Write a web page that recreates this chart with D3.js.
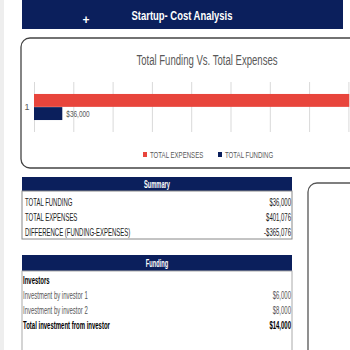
<!DOCTYPE html>
<html lang="en">
<head>
  <meta charset="UTF-8">
  <title>Startup- Cost Analysis</title>
  <script src="https://d3js.org/d3.v7.min.js"></script>
  <style>
    body {
      margin: 0;
      padding: 0;
      background: #fff;
      font-family: 'Liberation Sans', Arial, sans-serif;
      overflow: hidden;
    }
    svg { display: block; }
    .grid line { stroke: #d9d9d9; stroke-width: 1; }
    .grid path { display: none; }
  </style>
</head>
<body>
  <div id="chart"></div>

  <script>
    // chart data
    const categories = ["1"];
    const seriesNames = ["TOTAL EXPENSES", "TOTAL FUNDING"];
    const totalExpenses = [401076];
    const totalFunding = [36000];
    const seriesColors = ["#e8453c", "#0b1f5c"];

    // summary table
    const summaryLabels = ["TOTAL FUNDING", "TOTAL EXPENSES", "DIFFERENCE (FUNDING-EXPENSES)"];
    const summaryValues = ["$36,000", "$401,076", "-$365,076"];

    // funding table
    const fundingLabels = ["Investors", "Investment by investor 1", "Investment by investor 2", "Total investment from investor"];
    const fundingValues = ["", "$6,000", "$8,000", "$14,000"];
    const fundingBold = [true, false, false, true];

    const navy = "#0b1f5c";
    const W = 350, H = 350;

    // the original uses a narrow font; scale text horizontally to match
    function squeeze(sel, k) {
      sel.each(function () {
        const t = d3.select(this);
        const tx = +t.attr("x") || 0, ty = +t.attr("y") || 0;
        t.attr("x", 0).attr("y", 0)
          .attr("transform", `translate(${tx},${ty}) scale(${k},1)`);
      });
    }

    const svg = d3.select("#chart").append("svg")
      .attr("width", W)
      .attr("height", H);

    // light strip at left
    svg.append("rect").attr("x", 0).attr("y", 0).attr("width", 4).attr("height", H).attr("fill", "#eeeeee");

    // header bar
    svg.append("rect").attr("x", 22).attr("y", 0).attr("width", 321).attr("height", 29).attr("fill", navy);
    svg.append("text")
      .attr("x", 182).attr("y", 20)
      .attr("text-anchor", "middle")
      .attr("fill", "#fff")
      .style("font-size", "13.5px")
      .style("font-weight", "bold")
      .text("Startup- Cost Analysis")
      .call(squeeze, 0.7);
    svg.append("text")
      .attr("x", 86).attr("y", 24)
      .attr("text-anchor", "middle")
      .attr("fill", "#fff")
      .style("font-size", "12px")
      .style("font-weight", "bold")
      .text("+");

    // chart box
    svg.append("rect")
      .attr("x", 21).attr("y", 38).attr("width", 360).attr("height", 130)
      .attr("rx", 9)
      .attr("fill", "#fff")
      .attr("stroke", "#444").attr("stroke-width", 1.3);

    svg.append("text")
      .attr("x", 207).attr("y", 65)
      .attr("text-anchor", "middle")
      .attr("fill", "#595959")
      .style("font-size", "14.5px")
      .text("Total Funding Vs. Total Expenses")
      .call(squeeze, 0.66);

    // bar plot
    const plot = { left: 34, top: 82, height: 50 };
    const x = d3.scaleLinear().domain([0, 450000]).range([plot.left, plot.left + 9 * 39.3]);
    const y = d3.scaleBand().domain(categories).range([plot.top, plot.top + plot.height]).paddingInner(0).paddingOuter(0.44);
    const ySeries = d3.scaleBand().domain(seriesNames).range([0, y.bandwidth()]).padding(0.02);

    svg.append("g")
      .attr("class", "grid")
      .attr("transform", `translate(0,${plot.top})`)
      .call(d3.axisBottom(x).tickValues(d3.range(0, 450001, 50000)).tickSize(plot.height).tickFormat(""));

    const barData = [];
    categories.forEach((c, i) => {
      barData.push({ cat: c, series: seriesNames[0], value: totalExpenses[i], color: seriesColors[0] });
      barData.push({ cat: c, series: seriesNames[1], value: totalFunding[i], color: seriesColors[1] });
    });

    svg.selectAll(".bar")
      .data(barData)
      .enter()
      .append("rect")
      .attr("class", "bar")
      .attr("x", x(0))
      .attr("y", d => y(d.cat) + ySeries(d.series))
      .attr("width", d => x(d.value) - x(0))
      .attr("height", ySeries.bandwidth())
      .attr("fill", d => d.color);

    // data label on funding bar
    svg.selectAll(".blabel")
      .data(barData.filter(d => d.series === "TOTAL FUNDING"))
      .enter()
      .append("text")
      .attr("x", d => x(d.value) + 4)
      .attr("y", d => y(d.cat) + ySeries(d.series) + ySeries.bandwidth() / 2 + 3)
      .attr("fill", "#595959")
      .style("font-size", "9px")
      .text(d => d3.format("$,")(d.value))
      .call(squeeze, 0.72);

    // category label
    svg.selectAll(".clabel")
      .data(categories)
      .enter()
      .append("text")
      .attr("x", 27)
      .attr("y", d => y(d) + y.bandwidth() / 2 + 3)
      .attr("text-anchor", "middle")
      .attr("fill", "#595959")
      .style("font-size", "9px")
      .text(d => d);

    // legend
    const legendX = [143, 218];
    const legend = svg.selectAll(".legend")
      .data(seriesNames)
      .enter()
      .append("g")
      .attr("transform", (d, i) => `translate(${legendX[i]},158)`);
    legend.append("rect")
      .attr("x", 0).attr("y", -6).attr("width", 4).attr("height", 5)
      .attr("fill", (d, i) => seriesColors[i]);
    legend.append("text")
      .attr("x", 7).attr("y", 0)
      .attr("fill", "#595959")
      .style("font-size", "9.5px")
      .text(d => d)
      .call(squeeze, 0.64);

    // right panel box
    svg.append("rect")
      .attr("x", 308).attr("y", 183).attr("width", 80).attr("height", 200)
      .attr("rx", 9)
      .attr("fill", "#fff")
      .attr("stroke", "#555").attr("stroke-width", 1.3);

    // summary table
    const tLeft = 22, tRight = 292;
    const tableK = 0.57;
    const tableFont = "10.5px";
    svg.append("rect").attr("x", tLeft).attr("y", 177).attr("width", tRight - tLeft).attr("height", 14).attr("fill", navy);
    svg.append("text")
      .attr("x", (tLeft + tRight) / 2).attr("y", 188)
      .attr("text-anchor", "middle").attr("fill", "#fff")
      .style("font-size", "10px").style("font-weight", "bold")
      .text("Summary")
      .call(squeeze, tableK);
    svg.append("rect")
      .attr("x", tLeft).attr("y", 191).attr("width", tRight - tLeft).attr("height", 48)
      .attr("fill", "none").attr("stroke", "#888").attr("stroke-width", 1);

    const ySum = d3.scaleBand().domain(summaryLabels).range([194, 240]);
    svg.selectAll(".slabel")
      .data(summaryLabels)
      .enter()
      .append("text")
      .attr("x", tLeft + 3)
      .attr("y", d => ySum(d) + ySum.bandwidth() / 2 + 4)
      .attr("fill", "#222")
      .style("font-size", tableFont)
      .text(d => d)
      .call(squeeze, tableK);
    svg.selectAll(".svalue")
      .data(summaryValues)
      .enter()
      .append("text")
      .attr("x", tRight - 1)
      .attr("y", (d, i) => ySum(summaryLabels[i]) + ySum.bandwidth() / 2 + 4)
      .attr("text-anchor", "end")
      .attr("fill", "#222")
      .style("font-size", tableFont)
      .text(d => d)
      .call(squeeze, tableK);

    // funding table
    svg.append("rect").attr("x", tLeft).attr("y", 255).attr("width", tRight - tLeft).attr("height", 16).attr("fill", navy);
    svg.append("text")
      .attr("x", (tLeft + tRight) / 2).attr("y", 267)
      .attr("text-anchor", "middle").attr("fill", "#fff")
      .style("font-size", "10px").style("font-weight", "bold")
      .text("Funding")
      .call(squeeze, tableK);
    svg.append("rect")
      .attr("x", tLeft).attr("y", 271).attr("width", tRight - tLeft).attr("height", 100)
      .attr("fill", "none").attr("stroke", "#aaa").attr("stroke-width", 1);

    const yFund = d3.scaleBand().domain(fundingLabels).range([272, 332]);
    svg.selectAll(".flabel")
      .data(fundingLabels)
      .enter()
      .append("text")
      .attr("x", tLeft + 1)
      .attr("y", d => yFund(d) + yFund.bandwidth() / 2 + 4)
      .attr("fill", (d, i) => fundingBold[i] ? "#000" : "#555")
      .style("font-size", tableFont)
      .style("font-weight", (d, i) => fundingBold[i] ? "bold" : "normal")
      .text(d => d)
      .call(squeeze, tableK);
    svg.selectAll(".fvalue")
      .data(fundingValues)
      .enter()
      .append("text")
      .attr("x", tRight - 1)
      .attr("y", (d, i) => yFund(fundingLabels[i]) + yFund.bandwidth() / 2 + 4)
      .attr("text-anchor", "end")
      .attr("fill", (d, i) => fundingBold[i] ? "#000" : "#555")
      .style("font-size", tableFont)
      .style("font-weight", (d, i) => fundingBold[i] ? "bold" : "normal")
      .text(d => d)
      .call(squeeze, tableK);
  </script>
</body>
</html>
